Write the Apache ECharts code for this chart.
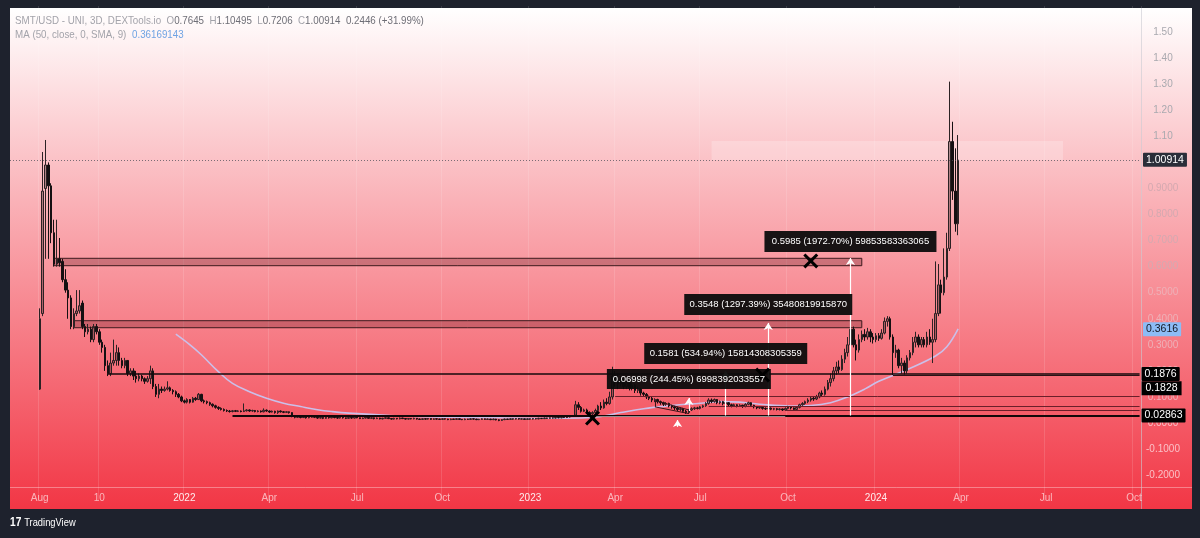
<!DOCTYPE html>
<html>
<head>
<meta charset="utf-8">
<script src="https://cdn.jsdelivr.net/npm/echarts@6/dist/echarts.min.js"></script>
<style>
html, body { margin: 0; padding: 0; background: #1e222d; }
#main { width: 1200px; height: 538px; }
</style>
</head>
<body>
<div id="main"></div>
<script>
// 3D bars, first bar of the axis is 2021-07-02
var barCount = 399;
var firstBar = 10;

// [open, close, low, high]
var ohlc2021 = [
  [0.13,0.40,0.127,0.44],[0.42,0.89,0.41,1.04],[0.90,0.99,0.63,1.086],[0.99,0.91,0.63,1.00],[0.91,0.73,0.69,0.92],[0.73,0.61,0.60,0.78],[0.61,0.63,0.60,0.78],[0.63,0.615,0.60,0.71],[0.62,0.55,0.54,0.63],[0.55,0.51,0.50,0.59],
  [0.51,0.48,0.40,0.54],[0.48,0.37,0.36,0.49],[0.37,0.42,0.36,0.44],[0.42,0.43,0.41,0.51],[0.43,0.45,0.42,0.51],[0.46,0.37,0.36,0.47],[0.37,0.35,0.33,0.38],[0.35,0.36,0.34,0.38],[0.36,0.32,0.31,0.37],[0.32,0.37,0.31,0.38],
  [0.37,0.35,0.34,0.38],[0.35,0.31,0.30,0.36],[0.31,0.29,0.27,0.32],[0.29,0.22,0.20,0.30],[0.22,0.19,0.18,0.24],[0.19,0.23,0.18,0.27],[0.23,0.24,0.22,0.32],[0.24,0.27,0.22,0.30],[0.27,0.24,0.22,0.29],[0.24,0.22,0.21,0.25],
  [0.22,0.24,0.21,0.25],[0.24,0.19,0.18,0.24],[0.19,0.20,0.18,0.21],[0.20,0.18,0.165,0.21],[0.18,0.17,0.155,0.20],[0.17,0.18,0.16,0.19],[0.18,0.17,0.16,0.185],[0.17,0.16,0.15,0.175],[0.16,0.17,0.155,0.18],[0.17,0.20,0.15,0.22],
  [0.20,0.14,0.13,0.21],[0.14,0.11,0.10,0.15],[0.11,0.13,0.095,0.15],[0.13,0.125,0.115,0.14],[0.125,0.13,0.12,0.14],[0.13,0.135,0.125,0.16],[0.135,0.125,0.12,0.14],[0.125,0.12,0.11,0.13],[0.12,0.11,0.10,0.125],[0.11,0.10,0.095,0.115],
  [0.10,0.085,0.08,0.105]
];
var ohlc2022 = [
  [0.085,0.08,0.075,0.09],[0.08,0.09,0.075,0.095],[0.09,0.08,0.075,0.092],[0.08,0.095,0.078,0.10],[0.095,0.09,0.085,0.10],[0.09,0.11,0.088,0.115],[0.11,0.085,0.08,0.112],[0.085,0.082,0.075,0.09],[0.082,0.078,0.072,0.086],[0.078,0.072,0.066,0.082],
  [0.072,0.066,0.06,0.075],[0.066,0.06,0.055,0.07],[0.06,0.056,0.05,0.064],[0.056,0.052,0.048,0.06],[0.052,0.048,0.044,0.056],[0.048,0.046,0.042,0.052],[0.046,0.044,0.04,0.05],[0.044,0.047,0.041,0.05],[0.047,0.045,0.042,0.05],[0.045,0.046,0.042,0.049],
  [0.046,0.044,0.041,0.048],[0.044,0.047,0.042,0.075],[0.047,0.05,0.044,0.053],[0.05,0.046,0.043,0.052],[0.046,0.048,0.043,0.051],[0.048,0.044,0.041,0.05],[0.044,0.046,0.041,0.049],[0.046,0.043,0.04,0.048],[0.043,0.049,0.041,0.056],[0.049,0.046,0.043,0.052],
  [0.046,0.042,0.039,0.048],[0.042,0.045,0.04,0.048],[0.045,0.04,0.036,0.047],[0.04,0.046,0.035,0.048],[0.046,0.043,0.04,0.048],[0.043,0.041,0.038,0.046],[0.041,0.043,0.039,0.045],[0.043,0.04,0.036,0.044],[0.04,0.026,0.022,0.041],[0.026,0.022,0.018,0.028],
  [0.022,0.024,0.019,0.026],[0.024,0.021,0.018,0.025],[0.021,0.023,0.019,0.025],[0.023,0.02,0.017,0.024],[0.02,0.022,0.018,0.024],[0.022,0.025,0.02,0.027],[0.025,0.022,0.019,0.026],[0.022,0.019,0.016,0.023],[0.019,0.021,0.017,0.023],[0.021,0.018,0.015,0.022],
  [0.018,0.022,0.016,0.026],[0.022,0.02,0.017,0.024],[0.02,0.023,0.018,0.025],[0.023,0.021,0.018,0.024],[0.021,0.019,0.016,0.022],[0.019,0.022,0.017,0.024],[0.022,0.02,0.017,0.023],[0.02,0.018,0.015,0.021],[0.018,0.021,0.016,0.023],[0.021,0.019,0.016,0.022],
  [0.019,0.023,0.017,0.025],[0.023,0.02,0.018,0.024],[0.02,0.017,0.015,0.021],[0.017,0.019,0.015,0.021],[0.019,0.022,0.017,0.026],[0.022,0.018,0.016,0.023],[0.018,0.02,0.016,0.022],[0.02,0.017,0.014,0.021],[0.017,0.019,0.015,0.021],[0.019,0.016,0.014,0.02],
  [0.016,0.018,0.014,0.02],[0.018,0.02,0.016,0.022],[0.02,0.017,0.015,0.021],[0.017,0.015,0.013,0.018],[0.015,0.018,0.013,0.02],[0.018,0.016,0.014,0.019],[0.016,0.019,0.014,0.021],[0.019,0.017,0.015,0.02],[0.017,0.015,0.013,0.018],[0.015,0.017,0.013,0.019],
  [0.017,0.016,0.014,0.019],[0.016,0.018,0.014,0.02],[0.018,0.015,0.013,0.019],[0.015,0.014,0.012,0.017],[0.014,0.016,0.012,0.018],[0.016,0.015,0.013,0.018],[0.015,0.017,0.013,0.019],[0.017,0.014,0.012,0.018],[0.014,0.016,0.012,0.018],[0.016,0.015,0.013,0.017],
  [0.015,0.014,0.012,0.016],[0.014,0.016,0.012,0.018],[0.016,0.015,0.013,0.017],[0.015,0.013,0.011,0.016],[0.013,0.015,0.011,0.017],[0.015,0.014,0.012,0.016],[0.014,0.016,0.012,0.018],[0.016,0.014,0.012,0.017],[0.014,0.013,0.011,0.015],[0.013,0.015,0.011,0.017],
  [0.015,0.014,0.012,0.016],[0.014,0.016,0.012,0.018],[0.016,0.015,0.013,0.017],[0.015,0.013,0.011,0.016],[0.013,0.014,0.011,0.016],[0.014,0.016,0.012,0.018],[0.016,0.014,0.012,0.017],[0.014,0.015,0.012,0.017],[0.015,0.013,0.011,0.016],[0.013,0.015,0.011,0.017],
  [0.015,0.012,0.01,0.016],[0.012,0.01,0.007,0.014],[0.01,0.013,0.008,0.015],[0.013,0.015,0.011,0.017],[0.015,0.014,0.012,0.016],[0.014,0.016,0.012,0.018],[0.016,0.015,0.013,0.017],[0.015,0.017,0.013,0.019],[0.017,0.015,0.013,0.018],[0.015,0.016,0.013,0.018],
  [0.016,0.014,0.012,0.017],[0.014,0.016,0.012,0.018]
];
var ohlc2023 = [
  [0.016,0.015,0.013,0.017],[0.015,0.017,0.013,0.019],[0.017,0.016,0.014,0.018],[0.016,0.018,0.014,0.02],[0.018,0.017,0.015,0.019],[0.017,0.019,0.015,0.021],[0.019,0.018,0.016,0.02],[0.018,0.02,0.016,0.022],[0.02,0.019,0.017,0.021],[0.019,0.021,0.017,0.023],
  [0.021,0.02,0.018,0.022],[0.02,0.022,0.018,0.024],[0.022,0.021,0.019,0.023],[0.021,0.023,0.019,0.025],[0.023,0.025,0.021,0.027],[0.025,0.028,0.023,0.03],[0.03,0.07,0.028,0.085],[0.07,0.06,0.05,0.08],[0.06,0.045,0.04,0.065],[0.045,0.05,0.042,0.055],
  [0.05,0.04,0.036,0.055],[0.04,0.035,0.03,0.045],[0.035,0.04,0.028,0.045],[0.04,0.048,0.036,0.055],[0.048,0.065,0.045,0.07],[0.065,0.058,0.05,0.08],[0.058,0.08,0.055,0.09],[0.08,0.075,0.068,0.095],[0.075,0.1,0.07,0.12],[0.1,0.18,0.09,0.216],
  [0.18,0.16,0.14,0.2],[0.16,0.15,0.13,0.19],[0.15,0.165,0.14,0.18],[0.165,0.14,0.13,0.17],[0.14,0.155,0.13,0.165],[0.155,0.135,0.125,0.16],[0.135,0.145,0.125,0.155],[0.145,0.125,0.115,0.15],[0.125,0.13,0.115,0.14],[0.13,0.115,0.105,0.135],
  [0.115,0.11,0.1,0.12],[0.11,0.1,0.092,0.115],[0.1,0.095,0.088,0.105],[0.095,0.088,0.08,0.1],[0.088,0.09,0.08,0.095],[0.09,0.082,0.075,0.093],[0.082,0.078,0.07,0.086],[0.078,0.072,0.065,0.082],[0.072,0.075,0.066,0.08],[0.075,0.066,0.06,0.078],
  [0.066,0.062,0.055,0.07],[0.062,0.058,0.05,0.066],[0.058,0.052,0.046,0.062],[0.052,0.055,0.045,0.06],[0.055,0.045,0.04,0.058],[0.045,0.04,0.035,0.05],[0.04,0.05,0.036,0.054],[0.05,0.055,0.046,0.06],[0.055,0.058,0.05,0.062],[0.058,0.056,0.052,0.062],
  [0.056,0.062,0.052,0.066],[0.062,0.066,0.058,0.07],[0.066,0.075,0.062,0.08],[0.075,0.088,0.07,0.095],[0.088,0.082,0.076,0.094],[0.082,0.09,0.078,0.094],[0.09,0.078,0.072,0.092],[0.078,0.082,0.072,0.086],[0.082,0.075,0.068,0.085],[0.075,0.078,0.07,0.082],
  [0.078,0.07,0.064,0.08],[0.07,0.066,0.06,0.074],[0.066,0.07,0.062,0.074],[0.07,0.066,0.06,0.072],[0.066,0.068,0.062,0.072],[0.068,0.064,0.058,0.07],[0.064,0.072,0.06,0.076],[0.072,0.078,0.068,0.082],[0.078,0.068,0.062,0.08],[0.068,0.062,0.056,0.07],
  [0.062,0.058,0.053,0.064],[0.058,0.06,0.054,0.064],[0.06,0.056,0.051,0.062],[0.056,0.054,0.05,0.06],[0.054,0.057,0.05,0.06],[0.057,0.053,0.049,0.06],[0.053,0.055,0.049,0.058],[0.055,0.052,0.048,0.058],[0.052,0.054,0.048,0.057],[0.054,0.05,0.046,0.056],
  [0.05,0.056,0.047,0.06],[0.056,0.062,0.052,0.066],[0.062,0.058,0.052,0.065],[0.058,0.052,0.048,0.06],[0.052,0.06,0.05,0.064],[0.06,0.07,0.056,0.074],[0.07,0.075,0.066,0.08],[0.075,0.082,0.07,0.086],[0.082,0.088,0.076,0.095],[0.088,0.095,0.082,0.1],
  [0.095,0.092,0.085,0.102],[0.092,0.1,0.088,0.108],[0.1,0.115,0.095,0.12],[0.115,0.11,0.1,0.125],[0.11,0.13,0.105,0.14],[0.13,0.155,0.125,0.165],[0.155,0.17,0.14,0.19],[0.17,0.2,0.16,0.215],[0.2,0.215,0.185,0.235],[0.215,0.205,0.19,0.24],
  [0.205,0.245,0.2,0.26],[0.245,0.27,0.23,0.285],[0.27,0.3,0.255,0.33],[0.3,0.36,0.29,0.38],[0.36,0.3,0.29,0.37],[0.3,0.28,0.24,0.32],[0.28,0.32,0.27,0.34],[0.32,0.34,0.31,0.355],[0.34,0.33,0.315,0.36],[0.33,0.35,0.32,0.365],
  [0.35,0.33,0.31,0.36],[0.33,0.32,0.305,0.345]
];
var ohlc2024 = [
  [0.32,0.335,0.31,0.345],[0.335,0.325,0.315,0.345],[0.325,0.345,0.32,0.36],[0.345,0.39,0.34,0.405],[0.39,0.40,0.37,0.41],[0.40,0.33,0.32,0.408],[0.33,0.27,0.184,0.34],[0.27,0.28,0.25,0.30],[0.28,0.22,0.21,0.285],[0.22,0.23,0.19,0.25],
  [0.23,0.2,0.186,0.24],[0.2,0.25,0.19,0.26],[0.25,0.27,0.24,0.28],[0.27,0.31,0.26,0.33],[0.31,0.33,0.29,0.35],[0.33,0.30,0.29,0.34],[0.30,0.32,0.29,0.33],[0.32,0.30,0.29,0.33],[0.30,0.33,0.29,0.35],[0.33,0.31,0.30,0.36],
  [0.31,0.32,0.23,0.40],[0.32,0.42,0.31,0.62],[0.42,0.53,0.41,0.61],[0.53,0.50,0.42,0.55],[0.50,0.56,0.49,0.67],[0.56,0.67,0.55,0.73],[0.67,1.08,0.66,1.31],[1.08,0.89,0.856,1.156],[0.89,0.7645,0.734,1.054],[0.7645,1.00914,0.7206,1.10495]
];

// MA(50) at a few bars
var maBars  = [58, 63, 67, 73, 78, 84, 90, 96, 102, 108, 113, 119, 137, 155, 172, 190, 201, 208, 215, 223, 231, 243, 250, 257, 264, 275, 282, 289, 295, 301, 306, 316, 326, 330, 334];
var maValue = [0.341, 0.30, 0.262, 0.197, 0.152, 0.12, 0.095, 0.076, 0.063, 0.051, 0.044, 0.038, 0.027, 0.022, 0.02, 0.018, 0.019, 0.025, 0.04, 0.055, 0.065, 0.076, 0.082, 0.08, 0.072, 0.065, 0.067, 0.078, 0.1, 0.13, 0.16, 0.205, 0.257, 0.293, 0.3616];

// x axis ticks
var tickMonths = ['2021-08', '2021-10', '2022-01', '2022-04', '2022-07', '2022-10', '2023-01', '2023-04', '2023-07', '2023-10', '2024-01', '2024-04', '2024-07', '2024-10'];
var tickTexts  = ['Aug', '10', '2022', 'Apr', 'Jul', 'Oct', '2023', 'Apr', 'Jul', 'Oct', '2024', 'Apr', 'Jul', 'Oct'];

// drawn levels: start bar and price
var levelStart = [34, 311, 213, 246, 273, 78];
var levelValue = [0.1876, 0.1828, 0.101, 0.066, 0.05, 0.02863];

// zones [fromBar, toBar, low, high]
var zoneA = [15, 300, 0.6036, 0.632];
var zoneB = [22, 300, 0.3656, 0.3925];
var glowZone = [247, 371, 1.009, 1.082];

// measure tool
var measureBar  = [296, 267, 252, 239];
var measureBase = 0.02863;
var measureTop  = [0.633, 0.384, 0.2, 0.096];
var measureText = ['0.5985 (1972.70%) 59853583363065', '0.3548 (1297.39%) 35480819915870', '0.1581 (534.94%) 15814308305359', '0.06998 (244.45%) 6998392033557'];
var measureLabelY = [0.6965, 0.4547, 0.2667, 0.1688];

// cross marks [bar, price]
var crossMarks = [[205, 0.019], [282, 0.622], [265, 0.184]];

var lastPrice = 1.00914;
var maLast = 0.3616;

var FONT = '"Liberation Sans", Arial, sans-serif';

var dates = [];
for (var k = 0; k < barCount; k++) {
  dates.push(new Date(Date.UTC(2021, 6, 2) + k * 3 * 86400000).toISOString().slice(0, 10));
}

function isTick(index) {
  var m = dates[index].slice(0, 7);
  return tickMonths.indexOf(m) >= 0 && (index === 0 || dates[index - 1].slice(0, 7) !== m);
}

var candles = ohlc2021.concat(ohlc2022, ohlc2023, ohlc2024).map(function (c, k) {
  return [firstBar + k].concat(c);
});
var maData = maBars.map(function (b, k) { return [b, maValue[k]]; });

function priceTag(text, bg, fg) {
  return {
    show: true, position: 'end', distance: 2, formatter: text,
    backgroundColor: bg, color: fg, fontSize: 10.5, fontFamily: FONT,
    padding: [2, 3, 1, 3], borderRadius: 1
  };
}

var levelStyles = [
  { color: '#150a0c', width: 1.6, type: 'solid' },
  { color: '#2a1216', width: 1, type: 'solid' },
  { color: '#6b1f2a', width: 1, type: 'solid' },
  { color: '#6b1f2a', width: 1, type: 'solid' },
  { color: '#6b1f2a', width: 1, type: 'solid' },
  { color: '#120809', width: 1.8, type: 'solid' }
];
var levelLines = levelValue.map(function (v, k) {
  var item = { coord: [levelStart[k], v], lineStyle: levelStyles[k] };
  if (k === 0) item.label = priceTag('0.1876', '#000', '#fff');
  if (k === 5) item.label = priceTag('0.02863', '#000', '#fff');
  return [item, { coord: [barCount - 1, v] }];
});
levelLines.push({ yAxis: lastPrice, lineStyle: { color: 'rgba(80,80,90,0.75)', width: 1, type: [1, 2] },
  label: priceTag('1.00914', '#2a2e39', '#fff') });
// measure base and wedge
var toolStyle = { color: '#3a1418', width: 1, type: 'solid' };
levelLines.push([{ coord: [205, 0.026], lineStyle: { color: 'rgba(255,255,255,0.55)', width: 1, type: 'solid' } }, { coord: [273, 0.026] }]);
levelLines.push([{ coord: [227, 0.086], lineStyle: toolStyle }, { coord: [239, 0.05] }]);
levelLines.push([{ coord: [227, 0.062], lineStyle: toolStyle }, { coord: [239, 0.036] }]);
levelLines.push([{ coord: [227, 0.062], lineStyle: toolStyle }, { coord: [227, 0.086] }]);

function zone(z, style) {
  return [{ coord: [z[0], z[3]], itemStyle: style }, { coord: [z[1], z[2]] }];
}

var arrows = measureBar.map(function (b, k) {
  var from = k === 3 ? 0.046 : measureBase;
  return [{ coord: [b, from] }, { coord: [b, measureTop[k]] }];
});
arrows.push([{ coord: [235, -0.015] }, { coord: [235, 0.0115] }]);

var labelSizes = [[172, 21], [168, 21], [163, 21], [164, 20]];
var measureLabels = measureText.map(function (t, k) {
  return {
    coord: [measureBar[k], measureLabelY[k]],
    symbol: 'rect', symbolSize: labelSizes[k],
    itemStyle: { color: 'rgba(12,12,12,0.95)' },
    label: { show: true, position: 'inside', formatter: t, color: '#fff', fontSize: 9.5, fontFamily: FONT }
  };
});
measureLabels.push({
  coord: [barCount - 1, 0.1828], symbol: 'rect', symbolSize: [40, 14], symbolOffset: [22, 13],
  itemStyle: { color: '#000' },
  label: { show: true, position: 'inside', formatter: '0.1828', color: '#fff', fontSize: 10.5, fontFamily: FONT }
});

var xPath = 'path://M2,0L7,5L12,0L14,2L9,7L14,12L12,14L7,9L2,14L0,12L5,7L0,2Z';

function yLabelColor(v) {
  if (v > 1.05) return '#a9a9af';
  if (v > 0.55) return '#d4a9b0';
  if (v > 0.05) return '#eeb0b7';
  return '#fbc0c6';
}

var chart = echarts.init(document.getElementById('main'));

var option = {
  animation: false,
  backgroundColor: '#1e222d',
  textStyle: { fontFamily: FONT },
  grid: { left: 10, right: 59, top: 6.04, bottom: 36.82 },
  xAxis: {
    type: 'category',
    data: dates,
    boundaryGap: true,
    offset: -14,
    axisLine: { show: false },
    axisTick: { show: false },
    axisLabel: {
      interval: function (index) { return isTick(index); },
      formatter: function (value) {
        var t = tickTexts[tickMonths.indexOf(value.slice(0, 7))];
        return /^\d{4}$/.test(t) ? '{y|' + t + '}' : t;
      },
      color: 'rgba(255,255,255,0.62)',
      fontSize: 10,
      margin: 6,
      rich: { y: { color: 'rgba(255,255,255,0.9)', fontSize: 10, fontFamily: FONT } }
    },
    splitLine: {
      show: true,
      interval: function (index) { return isTick(index); },
      lineStyle: { color: 'rgba(255,255,255,0.13)', width: 1 }
    }
  },
  yAxis: {
    type: 'value',
    position: 'right',
    min: -0.3,
    max: 1.6,
    interval: 0.1,
    axisLine: { show: false },
    axisTick: { show: false },
    splitLine: { show: false },
    axisLabel: {
      align: 'center',
      margin: 22,
      fontSize: 10,
      showMinLabel: false,
      showMaxLabel: false,
      color: function (v) { return yLabelColor(Number(v)); },
      formatter: function (v) {
        if (v > 1.55 || v < -0.25) return '';
        if (Math.abs(v) < 1e-9) return '0.0000';
        return v >= 0.95 ? v.toFixed(2) : v.toFixed(4);
      }
    }
  },
  graphic: {
    elements: [
      {
        type: 'rect', z: -100, silent: true,
        shape: { x: 10, y: 8, width: 1182, height: 501 },
        style: { fill: new echarts.graphic.LinearGradient(0, 0, 0, 1, [
          { offset: 0, color: '#ffffff' }, { offset: 1, color: '#f23645' }
        ]) }
      },
      { type: 'line', z: -50, silent: true, shape: { x1: 10, y1: 487.5, x2: 1192, y2: 487.5 }, style: { stroke: 'rgba(255,255,255,0.35)', lineWidth: 1 } },
      { type: 'line', z: -50, silent: true, shape: { x1: 1141.5, y1: 8, x2: 1141.5, y2: 509 }, style: { stroke: 'rgba(190,190,198,0.55)', lineWidth: 1 } },
      {
        type: 'text', x: 15, y: 21, scaleX: 0.85, silent: true,
        style: {
          text: '{t|SMT/USD - UNI, 3D, DEXTools.io  O}{v|0.7645}{t|  H}{v|1.10495}{t|  L}{v|0.7206}{t|  C}{v|1.00914  0.2446 (+31.99%)}',
          verticalAlign: 'middle',
          rich: {
            t: { fill: '#a3a3aa', fontSize: 11.5, fontFamily: FONT },
            v: { fill: '#6e6e76', fontSize: 11.5, fontFamily: FONT }
          }
        }
      },
      {
        type: 'text', x: 15, y: 35, scaleX: 0.85, silent: true,
        style: {
          text: '{t|MA (50, close, 0, SMA, 9)}  {b|0.36169143}',
          verticalAlign: 'middle',
          rich: {
            t: { fill: '#a3a3aa', fontSize: 11.5, fontFamily: FONT },
            b: { fill: '#6fa3e3', fontSize: 11.5, fontFamily: FONT }
          }
        }
      },
      {
        type: 'text', x: 10, y: 523, scaleX: 0.85, silent: true,
        style: {
          text: '{l|17} {n|TradingView}',
          verticalAlign: 'middle',
          rich: {
            l: { fill: '#ffffff', fontSize: 12, fontWeight: 'bold', fontFamily: FONT },
            n: { fill: '#ffffff', fontSize: 11, fontFamily: FONT }
          }
        }
      }
    ]
  },
  series: [
    {
      name: 'SMT',
      type: 'candlestick',
      data: candles,
      encode: { x: 0, y: [1, 2, 3, 4] },
      barWidth: 2,
      clip: false,
      z: 3,
      itemStyle: {
        color: 'rgba(35,22,25,0.35)',
        color0: '#151012',
        borderColor: '#2c2224',
        borderColor0: '#151012',
        borderWidth: 1
      },
      markArea: {
        silent: true,
        data: [
          zone(glowZone, { color: 'rgba(255,255,255,0.22)', borderWidth: 0 }),
          zone(zoneA, { color: 'rgba(120,40,48,0.35)', borderColor: '#3d1a1e', borderWidth: 1 }),
          zone(zoneB, { color: 'rgba(120,40,48,0.35)', borderColor: '#3d1a1e', borderWidth: 1 })
        ]
      },
      markLine: {
        silent: true,
        symbol: 'none',
        label: { show: false },
        lineStyle: { type: 'solid' },
        data: levelLines
      }
    },
    {
      name: 'MA',
      type: 'line',
      data: maData,
      smooth: 0.4,
      showSymbol: false,
      clip: false,
      z: 2,
      lineStyle: { color: '#cbbfe9', width: 1.6 },
      markLine: {
        silent: true,
        symbol: 'none',
        data: [{ yAxis: maLast, lineStyle: { color: 'rgba(0,0,0,0)', width: 0, type: 'solid' }, label: priceTag('0.3616', '#8dbcf6', '#131722') }]
      }
    },
    {
      name: 'tools',
      type: 'line',
      data: [],
      clip: false,
      z: 5,
      markLine: {
        silent: true,
        symbol: ['none', 'arrow'],
        symbolSize: 7,
        label: { show: false },
        lineStyle: { color: '#ffffff', width: 1.2, type: 'solid' },
        data: arrows
      },
      markPoint: {
        silent: true,
        data: measureLabels
      }
    },
    {
      name: 'marks',
      type: 'line',
      data: [],
      clip: false,
      z: 6,
      markPoint: {
        silent: true,
        symbol: xPath,
        symbolSize: 15,
        itemStyle: { color: '#000' },
        label: { show: false },
        data: crossMarks.map(function (m) { return { coord: m }; })
      }
    }
  ]
};

chart.setOption(option);
</script>
</body>
</html>
